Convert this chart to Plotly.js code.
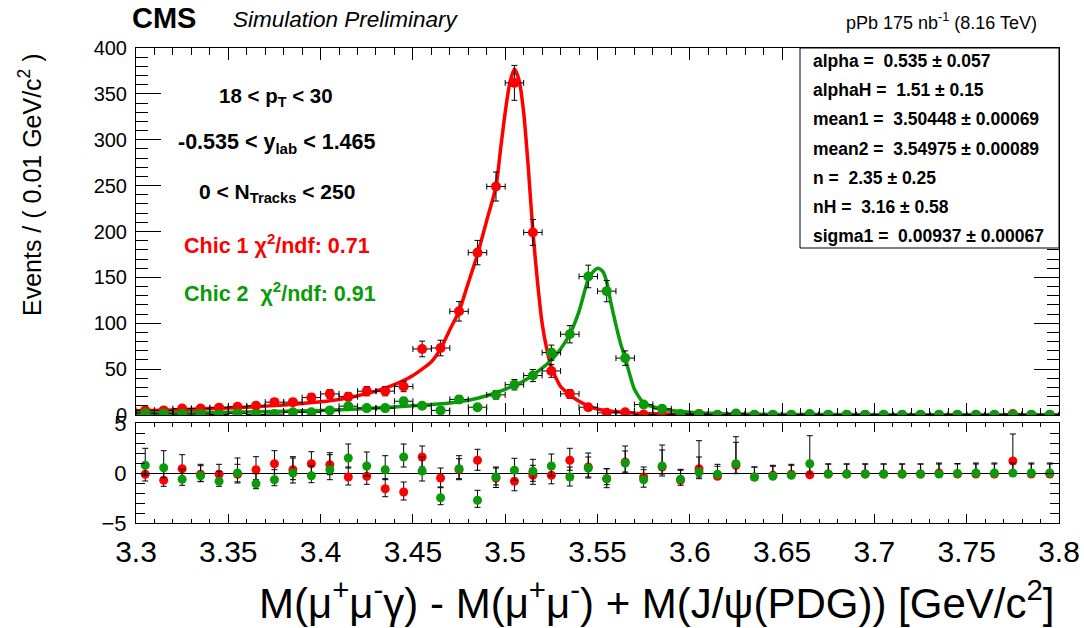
<!DOCTYPE html>
<html>
<head>
<meta charset="utf-8">
<script src="https://cdn.plot.ly/plotly-3.0.1.min.js"></script>
<style>html,body{margin:0;padding:0;background:#fff;}#chart{width:1084px;height:628px;}</style>
</head>
<body>
<div id="chart"></div>
<script>
// ---- data ----
const binCenters = [3.305,3.315,3.325,3.335,3.345,3.355,3.365,3.375,3.385,3.395,
  3.405,3.415,3.425,3.435,3.445,3.455,3.465,3.475,3.485,3.495,
  3.505,3.515,3.525,3.535,3.545,3.555,3.565,3.575,3.585,3.595,
  3.605,3.615,3.625,3.635,3.645,3.655,3.665,3.675,3.685,3.695,
  3.705,3.715,3.725,3.735,3.745,3.755,3.765,3.775,3.785,3.795];

const chic1Counts = [5,5,7,7,8,9,10,14,14,19,
  23,20,26,26,31,72,73,113,177,249,
  362,199,48,23,8.5,2.4,3,0.6,0.6,0,
  1,0,1,0,0,0,0,0,0,0,
  0,0,0,0,0,0,0,1,0,0];
const chic1Err = [2.2,2.2,2.6,2.6,2.8,3,3.2,3.7,3.7,4.4,
  4.8,4.5,5.1,5.1,5.6,8.5,8.5,10.6,13.3,15.8,
  19,14.1,6.9,4.8,2.9,1.5,1.7,1,1,0.6,
  1,0.6,1,0.6,0.6,0.6,0.6,0.6,0.6,0.6,
  0.6,0.6,0.6,0.6,0.6,0.6,0.6,1,0.6,0.6];

const chic2Counts = [2,1.5,1,1,0.5,1.5,0.5,1,3,3,
  5,9.6,7.5,7.5,15,10,5,17,8.5,22,
  33,43,68,88,151,135,62,11.4,6.7,1,
  1,0.3,1.5,0.3,0.3,0.3,1,0.3,0.3,0.3,
  0.3,0.3,0.3,0.3,0.3,0.3,0.3,0.3,0.3,0.3];
const chic2Err = [1.4,1.2,1,1,0.7,1.2,0.7,1,1.7,1.7,
  2.2,3.1,2.7,2.7,3.9,3.2,2.2,4.1,2.9,4.7,
  5.7,6.6,8.2,9.4,12.3,11.6,7.9,3.4,2.6,1,
  1,0.6,1.2,0.6,0.6,0.6,1,0.6,0.6,0.6,
  0.6,0.6,0.6,0.6,0.6,0.6,0.6,0.6,0.6,0.6];

// fit curves
const chic1CurveX = [3.300,3.320,3.340,3.360,3.380,3.400,3.410,3.420,3.430,3.440,3.450,3.460,3.465,3.470,3.475,3.480,3.485,3.490,3.495,3.4975,3.500,3.5025,3.505,3.5075,3.510,3.5125,3.515,3.5175,3.520,3.5225,3.525,3.530,3.535,3.540,3.545,3.550,3.560,3.570,3.580,3.600,3.650,3.700,3.800];
const chic1CurveY = [4.5,5.5,7,8.5,11,14.5,17,21,26,33,43,58,72,93,113,144,175,212,249,290,330,362,377,365,330,270,200,145,100,72,52,31,22,15,10,6.5,3.5,2,1.3,0.7,0.3,0.2,0.1];

const chic2CurveX = [3.300,3.350,3.400,3.430,3.450,3.470,3.480,3.490,3.500,3.510,3.520,3.525,3.530,3.535,3.540,3.545,3.548,3.5505,3.553,3.555,3.5575,3.560,3.5625,3.565,3.5675,3.570,3.575,3.580,3.585,3.590,3.600,3.620,3.650,3.700,3.800];
const chic2CurveY = [1.5,3,5,7.5,10,13,16,21,28,37,51,60,72,88,113,148,157,160,156,145,120,98,78,62,44,28,13,9,6.5,5,3,1.2,0.6,0.3,0.15];

// pulls (lower pad)
const chic1Pull = [-0.13,-0.73,0.43,-0.13,-0.13,-0.13,0.33,0.93,0.33,0.93,
  0.83,-0.4,-0.33,-1.57,-1.9,1.6,-0.5,0.33,1.27,-0.5,
  -0.83,-0.23,-0.23,1.27,0.6,-0.57,1.1,-0.4,0.6,-0.73,
  0.43,-0.33,0.77,-0.4,-0.23,-0.13,-0.17,-0.1,-0.1,-0.1,
  -0.1,-0.1,-0.1,0,-0.1,-0.1,-0.1,1.2,-0.1,-0.1];
const chic1PullUp = [1,1,1.4,1,1,1,1.3,1.3,1.3,1.2,
  1.2,1,1,1,1,1.1,1,1.1,1.1,1,
  1,1,1,1.2,1.4,1,1.6,1,2.2,1,
  2.8,1,2.3,1,1,1,1,1,1,1,
  1,1,1,1,1,1,1,2.7,1,1];
const chic1PullDn = [0.67,0.6,1,0.7,0.7,0.75,1,1,1,1,
  1,0.8,0.8,0.8,0.8,1,0.9,1,1,0.95,
  0.95,0.9,0.85,1,1,0.6,1,0.4,0.7,0,
  1,0,0.8,0,0,0,0,0,0,0,
  0,0,0,0,0,0,0,1,0,0];

const chic2Pull = [0.77,0.53,-0.63,-0.27,-0.83,0,-1.07,-0.67,0,-0.27,
  0.33,1.5,0.7,0.33,1.6,0.2,-2.47,0.43,-2.73,-0.4,
  0.27,0.17,0.7,-0.4,0.5,-0.57,1.0,-0.67,0.7,-0.63,
  0.1,-0.13,0.93,-0.4,-0.33,-0.23,0.93,-0.1,-0.1,-0.1,
  -0.1,-0.1,-0.1,-0.1,-0.05,0,0,0,0,0];
const chic2PullUp = [1.7,1.7,1,1,1,1.5,1,1,1.5,1,
  1.5,1.4,1.4,1.4,1.3,1.4,1,1.3,1,1,
  1.2,1.2,1.2,1,1.1,1,1.2,1,1.6,1,
  1.5,1,2.7,1,1,1,2.8,1,1,1,
  1,1,1,1,1,1,1,1,1,1];
const chic2PullDn = [1,1,0.6,0.6,0.5,1,0.5,0.6,1,0.7,
  1,1,1,1,1,1,0.7,1,0.7,0.8,
  1,1,1,0.9,1,0.9,1,0.75,1,0.6,
  0.5,0.3,1,0,0,0,1,0,0,0,
  0,0,0,0,0,0,0,0,0,0];

const xTickVals = [3.3,3.35,3.4,3.45,3.5,3.55,3.6,3.65,3.7,3.75,3.8];
const xTickText = ['3.3','3.35','3.4','3.45','3.5','3.55','3.6','3.65','3.7','3.75','3.8'];
const yTickVals = [0,50,100,150,200,250,300,350,400];
const pullTickVals = [-5,0,5];
const pullTickText = ['\u22125','0','5'];

const fitParams = [
  'alpha =\u00a0 0.535 \u00b1 0.057',
  'alphaH =\u00a0 1.51 \u00b1 0.15',
  'mean1 =\u00a0 3.50448 \u00b1 0.00069',
  'mean2 =\u00a0 3.54975 \u00b1 0.00089',
  'n =\u00a0 2.35 \u00b1 0.25',
  'nH =\u00a0 3.16 \u00b1 0.58',
  'sigma1 =\u00a0 0.00937 \u00b1 0.00067'
];

// ---- styling ----
const W = 1084, H = 628;
const px = v => v / W;
const py = v => 1 - v / H;
const FONT = 'Liberation Sans, Arial, Helvetica, sans-serif';
const RED = '#ff0000';
const GREEN = '#0a9a0a';

const errStyle = {color: '#000', thickness: 1, width: 3};

const traces = [
  {x: chic1CurveX, y: chic1CurveY, type: 'scatter', mode: 'lines', line: {color: RED, width: 3.5, shape: 'spline', smoothing: 0.6}, xaxis: 'x', yaxis: 'y', hoverinfo: 'skip'},
  {x: chic2CurveX, y: chic2CurveY, type: 'scatter', mode: 'lines', line: {color: GREEN, width: 3.5, shape: 'spline', smoothing: 0.6}, xaxis: 'x', yaxis: 'y', hoverinfo: 'skip'},
  {x: binCenters, y: chic1Counts, type: 'scatter', mode: 'markers', marker: {color: RED, size: 10},
   error_y: Object.assign({type: 'data', array: chic1Err, visible: true}, errStyle),
   error_x: Object.assign({type: 'constant', value: 0.005, visible: true}, errStyle), xaxis: 'x', yaxis: 'y'},
  {x: binCenters, y: chic2Counts, type: 'scatter', mode: 'markers', marker: {color: GREEN, size: 10},
   error_y: Object.assign({type: 'data', array: chic2Err, visible: true}, errStyle),
   error_x: Object.assign({type: 'constant', value: 0.005, visible: true}, errStyle), xaxis: 'x', yaxis: 'y'},
  {x: binCenters, y: chic1Pull, type: 'scatter', mode: 'markers', marker: {color: RED, size: 9},
   error_y: Object.assign({type: 'data', symmetric: false, array: chic1PullUp, arrayminus: chic1PullDn, visible: true}, errStyle),
   xaxis: 'x2', yaxis: 'y2'},
  {x: binCenters, y: chic2Pull, type: 'scatter', mode: 'markers', marker: {color: GREEN, size: 9},
   error_y: Object.assign({type: 'data', symmetric: false, array: chic2PullUp, arrayminus: chic2PullDn, visible: true}, errStyle),
   xaxis: 'x2', yaxis: 'y2'}
];

const axCommon = {showline: true, linecolor: '#000', linewidth: 1, mirror: 'allticks', ticks: 'inside', tickcolor: '#000', tickwidth: 1, showgrid: false, zeroline: false};

const annotations = [
  {text: '<b>CMS</b>', x: px(130), y: py(18), xanchor: 'left', yanchor: 'middle', font: {size: 29, family: FONT, color: '#000'}},
  {text: '<i>Simulation Preliminary</i>', x: px(231), y: py(20), xanchor: 'left', yanchor: 'middle', font: {size: 22.5, family: FONT, color: '#000'}},
  {text: 'pPb 175 nb<sup>-1</sup> (8.16 TeV)', x: px(1039), y: py(22), xanchor: 'right', yanchor: 'middle', font: {size: 18, family: FONT, color: '#000'}},
  {text: '<b>18 &lt; p<sub>T</sub> &lt; 30</b>', x: px(276), y: py(97), xanchor: 'center', yanchor: 'middle', font: {size: 20.5, family: FONT, color: '#000'}},
  {text: '<b>-0.535 &lt; y<sub>lab</sub> &lt; 1.465</b>', x: px(277), y: py(143), xanchor: 'center', yanchor: 'middle', font: {size: 21.5, family: FONT, color: '#000'}},
  {text: '<b>0 &lt; N<sub>Tracks</sub> &lt; 250</b>', x: px(277), y: py(193), xanchor: 'center', yanchor: 'middle', font: {size: 21, family: FONT, color: '#000'}},
  {text: '<b>Chic 1 \u03c7<sup>2</sup>/ndf: 0.71</b>', x: px(182), y: py(244), xanchor: 'left', yanchor: 'middle', font: {size: 21.5, family: FONT, color: RED}},
  {text: '<b>Chic 2 \u00a0\u03c7<sup>2</sup>/ndf: 0.91</b>', x: px(182), y: py(292), xanchor: 'left', yanchor: 'middle', font: {size: 21.5, family: FONT, color: GREEN}},
  {text: 'M(\u03bc<sup>+</sup>\u03bc<sup>-</sup>\u03b3) - M(\u03bc<sup>+</sup>\u03bc<sup>-</sup>) + M(J/\u03c8(PDG)) [GeV/c<sup>2</sup>]', x: px(1057), y: py(600), xanchor: 'right', yanchor: 'middle', font: {size: 42, family: FONT, color: '#000'}},
  {text: 'Events / ( 0.01 GeV/c<sup>2</sup> )', textangle: -90, x: px(30), y: py(185), xanchor: 'center', yanchor: 'middle', font: {size: 25, family: FONT, color: '#000'}}
];
fitParams.forEach((t, i) => {
  annotations.push({text: '<b>' + t + '</b>', x: px(811), y: py(61 + i * 29.2), xanchor: 'left', yanchor: 'middle', font: {size: 17.5, family: FONT, color: '#000'}});
});
annotations.forEach(a => { a.xref = 'paper'; a.yref = 'paper'; a.showarrow = false; });

const layout = {
  width: W, height: H,
  margin: {l: 0, r: 0, t: 0, b: 0},
  paper_bgcolor: '#fff', plot_bgcolor: '#fff',
  showlegend: false,
  xaxis: Object.assign({}, axCommon, {domain: [px(136), px(1059)], range: [3.3, 3.8], anchor: 'y', showticklabels: false,
    tickvals: xTickVals, ticklen: 12, minor: {dtick: 0.01, tick0: 3.3, ticks: 'inside', ticklen: 7, tickcolor: '#000'}}),
  yaxis: Object.assign({}, axCommon, {domain: [py(415), py(48)], range: [0, 400], anchor: 'x',
    tickvals: yTickVals, ticklen: 25, minor: {dtick: 10, tick0: 0, ticks: 'inside', ticklen: 12, tickcolor: '#000'},
    tickfont: {size: 20, family: FONT, color: '#000'}, ticklabelstandoff: 4}),
  xaxis2: Object.assign({}, axCommon, {domain: [px(136), px(1059)], range: [3.3, 3.8], anchor: 'y2',
    tickvals: xTickVals, ticktext: xTickText, ticklen: 9, minor: {dtick: 0.01, tick0: 3.3, ticks: 'inside', ticklen: 4, tickcolor: '#000'},
    tickfont: {size: 30, family: FONT, color: '#000'}, ticklabelstandoff: 2}),
  yaxis2: Object.assign({}, axCommon, {domain: [py(523), py(423)], range: [-5, 5], anchor: 'x2',
    tickvals: pullTickVals, ticktext: pullTickText, ticklen: 18, minor: {dtick: 1, tick0: 0, ticks: 'inside', ticklen: 9, tickcolor: '#000'},
    tickfont: {size: 22, family: FONT, color: '#000'}, ticklabelstandoff: 4,
    zeroline: true, zerolinecolor: '#000', zerolinewidth: 1}),
  shapes: [
    {type: 'rect', xref: 'paper', yref: 'paper', x0: px(800), x1: px(1059), y0: py(248), y1: py(48), line: {color: '#000', width: 1}, fillcolor: '#fff', layer: 'above'}
  ],
  annotations: annotations
};

Plotly.newPlot('chart', traces, layout, {staticPlot: true, displayModeBar: false});
</script>
</body>
</html>
